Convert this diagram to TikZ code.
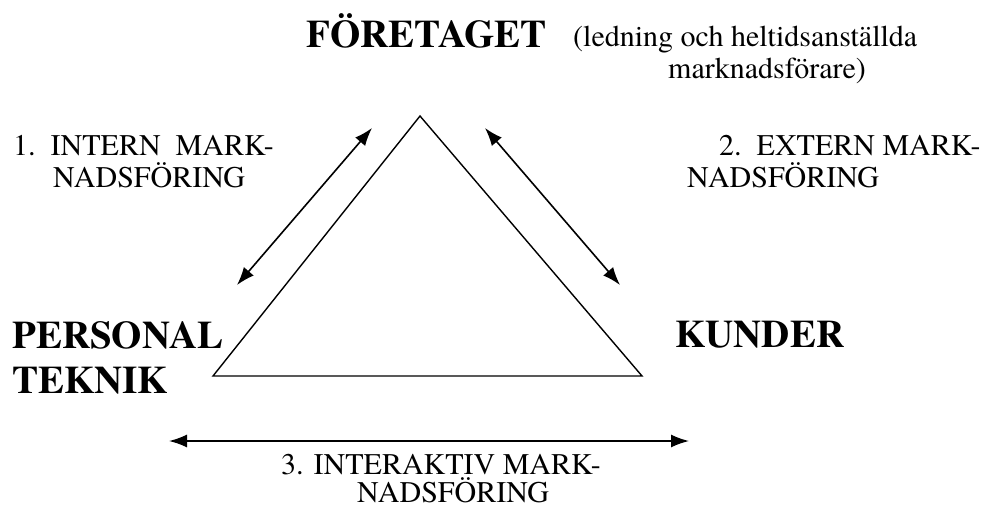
\documentclass[tikz,border=0pt]{standalone}
\usepackage{fontspec}
\setmainfont{texgyretermes}[Extension=.otf,UprightFont=*-regular,BoldFont=*-bold]
\usetikzlibrary{arrows.meta}
\begin{document}
\begin{tikzpicture}[x=1pt,y=-1pt,
	txt/.style={anchor=base west,inner sep=0pt,font=\fontsize{30}{34}\selectfont},
	big/.style={anchor=base west,inner sep=0pt,font=\fontsize{39}{44}\selectfont\bfseries},
	pil/.style={{Latex[length=18pt,width=13pt]}-{Latex[length=18pt,width=13pt]},line width=1.6pt}]
		\useasboundingbox (0,0) rectangle (984,508);
		% triangeln
		\coordinate (top) at (420,116);
		\coordinate (vl) at (213,376);
		\coordinate (hl) at (642,376);
		\draw[line width=1.4pt] (top)--(vl)--(hl)--cycle;
		% texter
		\node[big] (fore) at (306,48) {FÖRETAGET};
		\node[txt] (led1) at (573,47) {(ledning och heltidsanställda};
		\node[txt] (led2) at (668,79) {marknadsförare)};
		\node[big] (pers) at (12,348) {PERSONAL};
		\node[big] (tekn) at (12,393) {TEKNIK};
		\node[big] (kund) at (675,347) {KUNDER};
		\node[txt] (int1) at (13,155) {1.\ \ INTERN\ \ MARK-};
		\node[txt] (int2) at (53,187) {NADSFÖRING};
		\node[txt] (ext1) at (719,155) {2.\ \ EXTERN MARK-};
		\node[txt] (ext2) at (687,187) {NADSFÖRING};
		\node[txt] (ia1) at (281,474) {3. INTERAKTIV MARK-};
		\node[txt] (ia2) at (357,502) {NADSFÖRING};
		% pilar
		\coordinate (a1) at (372,128); \coordinate (a2) at (237,285);
		\coordinate (b1) at (485,128); \coordinate (b2) at (620,285);
		\coordinate (c1) at (169,441); \coordinate (c2) at (689,441);
		\draw[pil] (a1)--(a2);
		\draw[pil] (b1)--(b2);
		\draw[pil] (c1)--(c2);
		\end{tikzpicture}
\end{document}
